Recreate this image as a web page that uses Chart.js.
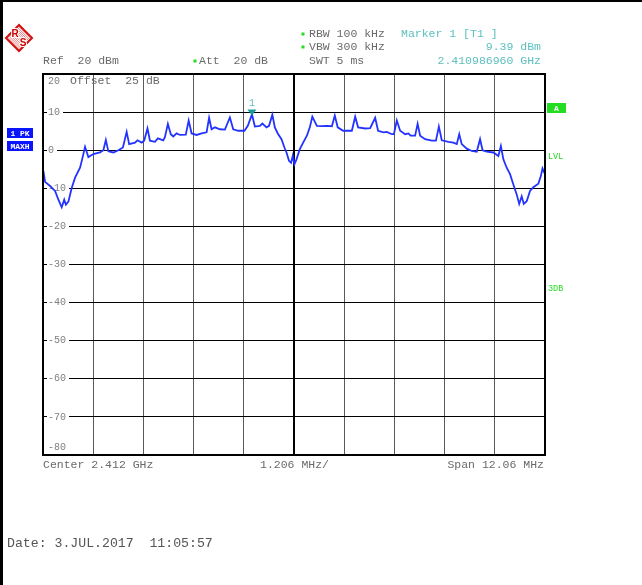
<!DOCTYPE html>
<html>
<head>
<meta charset="utf-8">
<script src="https://cdn.jsdelivr.net/npm/chart.js@4/dist/chart.umd.min.js"></script>
<style>
  html, body { margin: 0; padding: 0; background: #fff; }
  #wrap { position: relative; width: 642px; height: 585px; }
</style>
</head>
<body>
<div id="wrap"><canvas id="spectrum" width="642" height="585"></canvas></div>
<script>
const freqMHz = [
  -6.02, -5.98, -5.86, -5.74, -5.66, -5.58, -5.52, -5.48, -5.42, -5.34, -5.26, -5.14, -5.09, -5.02,
  -4.94, -4.82, -4.66, -4.58, -4.52, -4.46, -4.34, -4.22, -4.11, -4.02, -3.96, -3.82, -3.76, -3.66,
  -3.60, -3.52, -3.46, -3.34, -3.27, -3.14, -3.10, -3.03, -2.96, -2.90, -2.82, -2.74, -2.60, -2.53,
  -2.46, -2.34, -2.22, -2.10, -2.04, -1.98, -1.90, -1.78, -1.66, -1.54, -1.46, -1.34, -1.19, -1.11,
  -1.01, -0.94, -0.82, -0.76, -0.66, -0.60, -0.52, -0.46, -0.39, -0.30, -0.23, -0.18, -0.12, -0.07,
  -0.03, 0.01, 0.06, 0.14, 0.22, 0.31, 0.38, 0.44, 0.55, 0.67, 0.79, 0.91, 0.98, 1.05, 1.18, 1.39,
  1.47, 1.54, 1.71, 1.83, 1.95, 2.02, 2.15, 2.23, 2.35, 2.40, 2.47, 2.55, 2.67, 2.75, 2.80, 2.91,
  2.97, 3.03, 3.15, 3.31, 3.41, 3.48, 3.55, 3.71, 3.83, 3.91, 3.97, 4.03, 4.15, 4.27, 4.39, 4.47,
  4.53, 4.63, 4.79, 4.91, 4.97, 5.03, 5.11, 5.19, 5.27, 5.35, 5.41, 5.47, 5.52, 5.59, 5.67, 5.75,
  5.87, 5.93, 5.97, 6.03
];
const levelDbm = [
  -5.5, -8.3, -9.4, -10.7, -13.0, -15.0, -13.0, -14.3, -13.5, -9.9, -7.2, -4.6, -2.4, 0.9,
  -1.8, -1.0, -0.6, 0.0, 2.7, -0.3, -0.6, 0.0, 0.7, 4.8, 1.6, 2.0, 2.6, 2.0,
  2.5, 5.7, 2.5, 2.2, 3.1, 2.6, 3.5, 6.9, 4.2, 3.6, 4.4, 4.0, 4.1, 7.8,
  4.4, 4.0, 4.4, 4.7, 8.5, 5.5, 6.0, 5.5, 5.4, 8.6, 5.5, 5.1, 5.1, 6.4,
  9.39, 6.2, 6.4, 7.0, 6.0, 6.4, 9.3, 6.0, 4.4, 2.9, 0.7, -0.6, -2.8, -3.3,
  -1.5, -3.7, -2.4, 0.3, 2.0, 3.8, 6.0, 8.8, 6.4, 6.3, 6.4, 6.3, 9.1, 6.0, 5.1, 5.1,
  8.8, 6.0, 5.7, 5.8, 8.5, 5.1, 4.7, 4.8, 4.2, 4.2, 7.8, 5.1, 4.2, 4.4, 3.8, 3.8,
  6.9, 3.8, 2.9, 2.5, 2.5, 6.2, 2.6, 2.2, 2.0, 1.6, 4.2, 1.6, 0.4, -0.2, -0.4, 2.9,
  0.0, -0.4, -0.6, -1.5, 1.1, -2.4, -4.6, -6.3, -9.0, -11.6, -14.1, -12.1, -14.1, -13.4, -10.7, -9.7,
  -8.8, -6.8, -4.8, -6.3
];

const xGrid = [-6.03, -4.824, -3.618, -2.412, -1.206, 0, 1.206, 2.412, 3.618, 4.824, 6.03];
const yGrid = [20, 10, 0, -10, -20, -30, -40, -50, -60, -70, -80];

const markerFreq = -1.01;
const markerLevel = 9.39;

const MONO = '"Liberation Mono", "DejaVu Sans Mono", monospace';
const GREY = "#6a6a6a";
const CYAN = "#5cbfbf";
const GREEN = "#22dd22";

function txt(ctx, s, x, y, color, size, align) {
  ctx.font = size + "px " + MONO;
  ctx.fillStyle = color;
  ctx.textAlign = align || "left";
  ctx.textBaseline = "middle";
  ctx.fillText(s, x, y);
}

function star(ctx, x, y) {
  ctx.fillStyle = GREEN;
  ctx.fillRect(x - 1.5, y - 1.5, 3, 3);
}

function diamond(ctx, cx, cy, r) {
  ctx.beginPath();
  ctx.moveTo(cx, cy - r); ctx.lineTo(cx + r, cy); ctx.lineTo(cx, cy + r); ctx.lineTo(cx - r, cy); ctx.closePath();
}

function drawLogo(ctx, cx, cy, r) {
  ctx.save();
  diamond(ctx, cx, cy, r);
  ctx.save();
  ctx.clip();
  ctx.strokeStyle = "#e86060";
  ctx.lineWidth = 0.8;
  for (let i = -2 * r; i < 2 * r; i += 2.2) {
    ctx.beginPath(); ctx.moveTo(cx + i - r, cy - r); ctx.lineTo(cx + i + r, cy + r); ctx.stroke();
  }
  ctx.restore();
  diamond(ctx, cx, cy, r);
  ctx.strokeStyle = "#d01010";
  ctx.lineWidth = 2;
  ctx.stroke();
  ctx.fillStyle = "#c00";
  ctx.strokeStyle = "#fff";
  ctx.lineWidth = 2;
  ctx.font = "bold 10px " + '"Liberation Sans", sans-serif';
  ctx.textAlign = "center"; ctx.textBaseline = "middle";
  ctx.strokeText("R", cx - 4, cy - 4); ctx.fillText("R", cx - 4, cy - 4);
  ctx.strokeText("S", cx + 4, cy + 5); ctx.fillText("S", cx + 4, cy + 5);
  ctx.restore();
}

const screenPlugin = {
  id: "screen",
  beforeDraw(chart) {
    const ctx = chart.ctx;
    ctx.save();
    ctx.fillStyle = "#fff";
    ctx.fillRect(0, 0, chart.width, chart.height);
    ctx.fillStyle = "#000";
    ctx.fillRect(0, 0, chart.width, 2);
    ctx.fillRect(0, 0, 3, chart.height);

    drawLogo(ctx, 19, 38, 13);

    star(ctx, 303, 34); txt(ctx, "RBW 100 kHz", 309, 34, GREY, 11.5);
    star(ctx, 303, 47); txt(ctx, "VBW 300 kHz", 309, 47, GREY, 11.5);
    txt(ctx, "SWT 5 ms", 309, 61, GREY, 11.5);
    txt(ctx, "Ref  20 dBm", 43, 61, GREY, 11.5);
    star(ctx, 195, 61); txt(ctx, "Att  20 dB", 199, 61, GREY, 11.5);
    txt(ctx, "Marker 1 [T1 ]", 401, 34, CYAN, 11.5);
    txt(ctx, markerLevel.toFixed(2) + " dBm", 541, 47, CYAN, 11.5, "right");
    txt(ctx, "2.410986960 GHz", 541, 61, CYAN, 11.5, "right");

    // left side trace info boxes
    ctx.fillStyle = "#0a14ff";
    ctx.fillRect(7, 128, 26, 10);
    ctx.fillRect(7, 141, 26, 10);
    ctx.font = "bold 8px " + MONO;
    ctx.fillStyle = "#fff";
    ctx.textAlign = "center"; ctx.textBaseline = "middle";
    ctx.fillText("1 PK", 20, 133.5);
    ctx.fillText("MAXH", 20, 146.5);

    // right side
    ctx.fillStyle = GREEN;
    ctx.fillRect(547, 103, 19, 10);
    ctx.fillStyle = "#fff";
    ctx.font = "bold 8px " + MONO;
    ctx.fillText("A", 556.5, 108.5);
    txt(ctx, "LVL", 548, 157, GREEN, 8.5);
    txt(ctx, "3DB", 548, 289, GREEN, 8.5);

    txt(ctx, "Center 2.412 GHz", 43, 465, GREY, 11.5);
    txt(ctx, "1.206 MHz/", 260, 465, GREY, 11.5);
    txt(ctx, "Span 12.06 MHz", 544, 465, GREY, 11.5, "right");
    txt(ctx, "Date: 3.JUL.2017  11:05:57", 7, 544, "#555", 13.2);
    ctx.restore();
  },
  beforeDatasetsDraw(chart) {
    const ctx = chart.ctx;
    const y = chart.scales.y;
    const a = chart.chartArea;
    ctx.save();
    ctx.font = "10px " + MONO;
    yGrid.forEach((v) => {
      let py = y.getPixelForValue(v);
      if (v === yGrid[0]) py = a.top + 7;
      if (v === yGrid[yGrid.length - 1]) py = a.bottom - 8;
      const s = String(v);
      const w = ctx.measureText(s).width;
      ctx.fillStyle = "#fff";
      ctx.fillRect(a.left + 4, py - 4, w + 4, 8);
      txt(ctx, s, a.left + 5, py, "#808080", 10);
    });
    txt(ctx, "Offset  25 dB", 70, a.top + 7, GREY, 11.5);
    ctx.restore();
  },
  afterDatasetsDraw(chart) {
    const ctx = chart.ctx;
    const a = chart.chartArea;
    ctx.save();
    ctx.strokeStyle = "#000";
    ctx.lineWidth = 2;
    ctx.strokeRect(a.left, a.top, a.right - a.left, a.bottom - a.top);
    const mx = chart.scales.x.getPixelForValue(markerFreq);
    const my = chart.scales.y.getPixelForValue(markerLevel);
    ctx.fillStyle = "#1a9a9a";
    ctx.beginPath();
    ctx.moveTo(mx - 4.5, my - 5); ctx.lineTo(mx + 4.5, my - 5); ctx.lineTo(mx, my + 1); ctx.closePath();
    ctx.fill();
    txt(ctx, "1", mx, my - 11, CYAN, 10, "center");
    ctx.restore();
  }
};

new Chart(document.getElementById("spectrum"), {
  type: "line",
  data: {
    datasets: [{
      data: freqMHz.map((f, i) => ({ x: f, y: levelDbm[i] })),
      borderColor: "#2333ff",
      borderWidth: 1.8,
      pointRadius: 0,
      tension: 0,
      fill: false,
    }],
  },
  options: {
    responsive: false, animation: false, devicePixelRatio: 1,
    layout: { padding: { left: 43, top: 74, right: 97, bottom: 130 } },
    plugins: { legend: { display: false }, tooltip: { enabled: false } },
    scales: {
      x: {
        type: "linear", min: xGrid[0], max: xGrid[xGrid.length - 1],
        afterBuildTicks: (s) => { s.ticks = xGrid.map((v) => ({ value: v })); },
        afterFit: (s) => { s.height = 0; },
        ticks: { display: false },
        border: { display: false },
        grid: {
          drawTicks: false,
          color: (c) => (c.tick && c.tick.value === 0 ? "#000" : "#5a5a5a"),
          lineWidth: (c) => (c.tick && c.tick.value === 0 ? 2 : 1),
        },
      },
      y: {
        type: "linear", min: -80, max: 20,
        afterBuildTicks: (s) => { s.ticks = yGrid.map((v) => ({ value: v })); },
        afterFit: (s) => { s.width = 0; },
        ticks: { display: false },
        border: { display: false },
        grid: { drawTicks: false, color: "#000", lineWidth: 1 },
      },
    },
  },
  plugins: [screenPlugin],
});
</script>
</body>
</html>
